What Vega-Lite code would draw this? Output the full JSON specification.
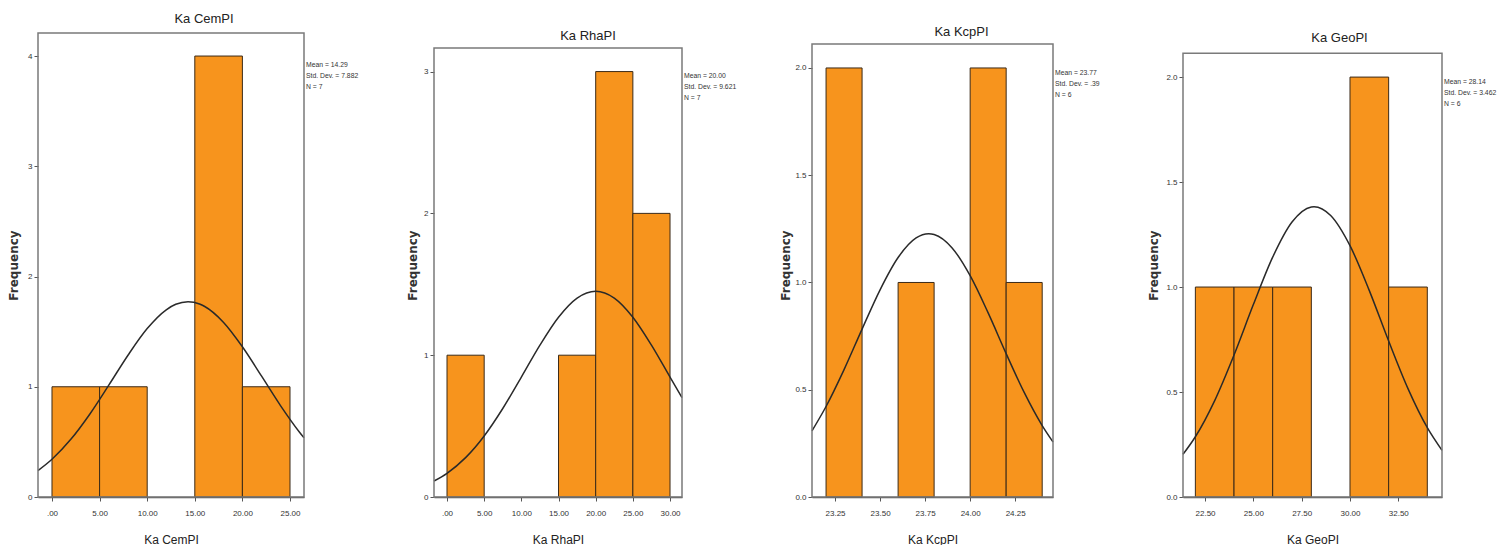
{
  "$schema": "https://vega.github.io/schema/vega-lite/v6.json",
  "background": "white",
  "padding": {"left": 7, "top": 13, "right": 0, "bottom": 0},
  "bounds": "flush",
  "spacing": 130,
  "config": {
    "view": {"stroke": null},
    "font": "Liberation Sans Narrow, Liberation Sans, sans-serif",
    "title": {"font": "Liberation Sans Narrow, Liberation Sans, sans-serif", "fontSize": 13, "fontWeight": "normal", "color": "#222"},
    "axis": {
      "grid": false,
      "labelFont": "Liberation Sans Narrow, Liberation Sans, sans-serif",
      "labelFontSize": 8,
      "labelColor": "#333",
      "tickColor": "#555",
      "tickSize": 4,
      "domainColor": "#555",
      "domainWidth": 1.5
    },
    "axisX": {"labelPadding": 8, "titlePadding": 17, "titleFont": "Liberation Sans Narrow, Liberation Sans, sans-serif", "titleFontSize": 12, "titleFontWeight": "normal", "titleColor": "#222"},
    "axisY": {"domain": false, "labelPadding": 2, "titleFont": "DejaVu Sans", "titleFontSize": 12, "titleFontWeight": "bold", "titleColor": "#333"}
  },
  "hconcat": [
    {
      "width": 266,
      "height": 464,
      "title": {"text": "Ka CemPI", "offset": 6, "dx": 33},
      "layer": [
        {
          "data": {"values": [
            {"lo": 0, "hi": 5, "count": 1},
            {"lo": 5, "hi": 10, "count": 1},
            {"lo": 15, "hi": 20, "count": 4},
            {"lo": 20, "hi": 25, "count": 1}
          ]},
          "mark": {"type": "rect", "color": "#F7941D", "stroke": "#3b2a18", "strokeWidth": 1},
          "encoding": {
            "x": {"field": "lo", "type": "quantitative", "scale": {"domain": [-1.47, 26.47], "nice": false, "zero": false},
                  "axis": {"values": [0, 5, 10, 15, 20, 25], "labelExpr": "datum.value === 0 ? '.00' : format(datum.value, '.2f')"}, "title": "Ka CemPI"},
            "x2": {"field": "hi"},
            "y": {"field": "count", "type": "quantitative", "scale": {"domain": [0, 4.209], "nice": false},
                  "axis": {"values": [0, 1, 2, 3, 4], "format": "d", "titlePadding": 7}, "title": "Frequency"},
            "y2": {"datum": 0}
          }
        },
        {
          "data": {"values": [
            {"value": -1.47, "density": 0.240},
            {"value": 0, "density": 0.3425},
            {"value": 2, "density": 0.5253},
            {"value": 4, "density": 0.7556},
            {"value": 6, "density": 1.019},
            {"value": 8, "density": 1.2884},
            {"value": 10, "density": 1.5276},
            {"value": 12, "density": 1.6983},
            {"value": 13, "density": 1.7479},
            {"value": 14.29, "density": 1.7715},
            {"value": 15.5, "density": 1.7508},
            {"value": 16, "density": 1.7303},
            {"value": 18, "density": 1.5857},
            {"value": 20, "density": 1.3627},
            {"value": 22, "density": 1.098},
            {"value": 24, "density": 0.8294},
            {"value": 26, "density": 0.5876},
            {"value": 26.47, "density": 0.5368}
          ]},
          "mark": {"type": "line", "color": "#2a2a2a", "strokeWidth": 1.5, "interpolate": "monotone"},
          "encoding": {
            "x": {"field": "value", "type": "quantitative", "scale": {"domain": [-1.47, 26.47], "nice": false, "zero": false}, "title": "Ka CemPI"},
            "y": {"field": "density", "type": "quantitative", "scale": {"domain": [0, 4.209], "nice": false}, "title": "Frequency"}
          }
        },
        {
          "data": {"values": [{}]},
          "mark": {"type": "rect", "filled": false, "stroke": "#7a7a7a", "strokeWidth": 1.5},
          "encoding": {
            "x": {"datum": -1.47, "type": "quantitative", "scale": {"domain": [-1.47, 26.47], "nice": false, "zero": false}, "title": "Ka CemPI"},
            "x2": {"datum": 26.47},
            "y": {"datum": 0, "type": "quantitative", "scale": {"domain": [0, 4.209], "nice": false}, "title": "Frequency"},
            "y2": {"datum": 4.209}
          }
        },
        {
          "data": {"values": [{}]},
          "mark": {"type": "text", "align": "left", "baseline": "top", "dx": 2, "fontSize": 6.8, "lineHeight": 11, "color": "#333"},
          "encoding": {
            "x": {"datum": 26.47, "type": "quantitative", "scale": {"domain": [-1.47, 26.47], "nice": false, "zero": false}, "title": "Ka CemPI"},
            "y": {"datum": 3.946, "type": "quantitative", "scale": {"domain": [0, 4.209], "nice": false}, "title": "Frequency"},
            "text": {"value": ["Mean = 14.29", "Std. Dev. = 7.882", "N = 7"]}
          }
        }
      ]
    },
    {
      "width": 248,
      "height": 464,
      "title": {"text": "Ka RhaPI", "offset": -10, "dx": 30},
      "layer": [
        {
          "data": {"values": [
            {"lo": 0, "hi": 5, "count": 1},
            {"lo": 15, "hi": 20, "count": 1},
            {"lo": 20, "hi": 25, "count": 3},
            {"lo": 25, "hi": 30, "count": 2}
          ]},
          "mark": {"type": "rect", "color": "#F7941D", "stroke": "#3b2a18", "strokeWidth": 1},
          "encoding": {
            "x": {"field": "lo", "type": "quantitative", "scale": {"domain": [-1.75, 31.61], "nice": false, "zero": false},
                  "axis": {"values": [0, 5, 10, 15, 20, 25, 30], "labelExpr": "datum.value === 0 ? '.00' : format(datum.value, '.2f')"}, "title": "Ka RhaPI"},
            "x2": {"field": "hi"},
            "y": {"field": "count", "type": "quantitative", "scale": {"domain": [0, 3.272], "nice": false},
                  "axis": {"values": [0, 1, 2, 3], "format": "d", "titlePadding": 4}, "title": "Frequency"},
            "y2": {"datum": 0}
          }
        },
        {
          "data": {"values": [
            {"value": -1.75, "density": 0.1127},
            {"value": 0, "density": 0.1673},
            {"value": 2.5, "density": 0.2775},
            {"value": 5, "density": 0.4305},
            {"value": 7.5, "density": 0.6241},
            {"value": 10, "density": 0.8455},
            {"value": 12.5, "density": 1.0711},
            {"value": 15, "density": 1.268},
            {"value": 17.5, "density": 1.4031},
            {"value": 20, "density": 1.4513},
            {"value": 22.5, "density": 1.4031},
            {"value": 25, "density": 1.268},
            {"value": 27.5, "density": 1.0711},
            {"value": 30, "density": 0.8455},
            {"value": 31.61, "density": 0.7007}
          ]},
          "mark": {"type": "line", "color": "#2a2a2a", "strokeWidth": 1.5, "interpolate": "monotone"},
          "encoding": {
            "x": {"field": "value", "type": "quantitative", "scale": {"domain": [-1.75, 31.61], "nice": false, "zero": false}, "title": "Ka RhaPI"},
            "y": {"field": "density", "type": "quantitative", "scale": {"domain": [0, 3.272], "nice": false}, "title": "Frequency"}
          }
        },
        {
          "data": {"values": [{}]},
          "mark": {"type": "rect", "filled": false, "stroke": "#7a7a7a", "strokeWidth": 1.5},
          "encoding": {
            "x": {"datum": -1.75, "type": "quantitative", "scale": {"domain": [-1.75, 31.61], "nice": false, "zero": false}, "title": "Ka RhaPI"},
            "x2": {"datum": 31.61},
            "y": {"datum": 0, "type": "quantitative", "scale": {"domain": [0, 3.272], "nice": false}, "title": "Frequency"},
            "y2": {"datum": 3.167}
          }
        },
        {
          "data": {"values": [{}]},
          "mark": {"type": "text", "align": "left", "baseline": "top", "dx": 2, "fontSize": 6.8, "lineHeight": 11, "color": "#333"},
          "encoding": {
            "x": {"datum": 31.61, "type": "quantitative", "scale": {"domain": [-1.75, 31.61], "nice": false, "zero": false}, "title": "Ka RhaPI"},
            "y": {"datum": 2.99, "type": "quantitative", "scale": {"domain": [0, 3.272], "nice": false}, "title": "Frequency"},
            "text": {"value": ["Mean = 20.00", "Std. Dev. = 9.621", "N = 7"]}
          }
        }
      ]
    },
    {
      "width": 241,
      "height": 464,
      "title": {"text": "Ka KcpPI", "offset": -6, "dx": 29},
      "layer": [
        {
          "data": {"values": [
            {"lo": 23.2, "hi": 23.4, "count": 2},
            {"lo": 23.6, "hi": 23.8, "count": 1},
            {"lo": 24.0, "hi": 24.2, "count": 2},
            {"lo": 24.2, "hi": 24.4, "count": 1}
          ]},
          "mark": {"type": "rect", "color": "#F7941D", "stroke": "#3b2a18", "strokeWidth": 1},
          "encoding": {
            "x": {"field": "lo", "type": "quantitative", "scale": {"domain": [23.122, 24.46], "nice": false, "zero": false},
                  "axis": {"values": [23.25, 23.5, 23.75, 24, 24.25], "format": ".2f"}, "title": "Ka KcpPI"},
            "x2": {"field": "hi"},
            "y": {"field": "count", "type": "quantitative", "scale": {"domain": [0, 2.163], "nice": false},
                  "axis": {"values": [0, 0.5, 1, 1.5, 2], "format": ".1f", "titlePadding": 2}, "title": "Frequency"},
            "y2": {"datum": 0}
          }
        },
        {
          "data": {"values": [
            {"value": 23.122, "density": 0.3087},
            {"value": 23.2, "density": 0.4219},
            {"value": 23.3, "density": 0.5939},
            {"value": 23.4, "density": 0.7827},
            {"value": 23.5, "density": 0.9659},
            {"value": 23.6, "density": 1.1163},
            {"value": 23.7, "density": 1.2079},
            {"value": 23.77, "density": 1.2275},
            {"value": 23.8, "density": 1.2239},
            {"value": 23.9, "density": 1.1612},
            {"value": 24.0, "density": 1.0316},
            {"value": 24.1, "density": 0.8581},
            {"value": 24.2, "density": 0.6684},
            {"value": 24.3, "density": 0.4876},
            {"value": 24.4, "density": 0.333},
            {"value": 24.46, "density": 0.2566}
          ]},
          "mark": {"type": "line", "color": "#2a2a2a", "strokeWidth": 1.5, "interpolate": "monotone"},
          "encoding": {
            "x": {"field": "value", "type": "quantitative", "scale": {"domain": [23.122, 24.46], "nice": false, "zero": false}, "title": "Ka KcpPI"},
            "y": {"field": "density", "type": "quantitative", "scale": {"domain": [0, 2.163], "nice": false}, "title": "Frequency"}
          }
        },
        {
          "data": {"values": [{}]},
          "mark": {"type": "rect", "filled": false, "stroke": "#7a7a7a", "strokeWidth": 1.5},
          "encoding": {
            "x": {"datum": 23.122, "type": "quantitative", "scale": {"domain": [23.122, 24.46], "nice": false, "zero": false}, "title": "Ka KcpPI"},
            "x2": {"datum": 24.46},
            "y": {"datum": 0, "type": "quantitative", "scale": {"domain": [0, 2.163], "nice": false}, "title": "Frequency"},
            "y2": {"datum": 2.112}
          }
        },
        {
          "data": {"values": [{}]},
          "mark": {"type": "text", "align": "left", "baseline": "top", "dx": 2, "fontSize": 6.8, "lineHeight": 11, "color": "#333"},
          "encoding": {
            "x": {"datum": 24.46, "type": "quantitative", "scale": {"domain": [23.122, 24.46], "nice": false, "zero": false}, "title": "Ka KcpPI"},
            "y": {"datum": 1.991, "type": "quantitative", "scale": {"domain": [0, 2.163], "nice": false}, "title": "Frequency"},
            "text": {"value": ["Mean = 23.77", "Std. Dev. = .39", "N = 6"]}
          }
        }
      ]
    },
    {
      "width": 259,
      "height": 464,
      "title": {"text": "Ka GeoPI", "offset": -12, "dx": 27},
      "layer": [
        {
          "data": {"values": [
            {"lo": 22, "hi": 24, "count": 1},
            {"lo": 24, "hi": 26, "count": 1},
            {"lo": 26, "hi": 28, "count": 1},
            {"lo": 30, "hi": 32, "count": 2},
            {"lo": 32, "hi": 34, "count": 1}
          ]},
          "mark": {"type": "rect", "color": "#F7941D", "stroke": "#3b2a18", "strokeWidth": 1},
          "encoding": {
            "x": {"field": "lo", "type": "quantitative", "scale": {"domain": [21.36, 34.76], "nice": false, "zero": false},
                  "axis": {"values": [22.5, 25, 27.5, 30, 32.5], "format": ".2f"}, "title": "Ka GeoPI"},
            "x2": {"field": "hi"},
            "y": {"field": "count", "type": "quantitative", "scale": {"domain": [0, 2.21], "nice": false},
                  "axis": {"values": [0, 0.5, 1, 1.5, 2], "format": ".1f", "titlePadding": 5}, "title": "Frequency"},
            "y2": {"datum": 0}
          }
        },
        {
          "data": {"values": [
            {"value": 21.36, "density": 0.2032},
            {"value": 22, "density": 0.2869},
            {"value": 23, "density": 0.4593},
            {"value": 24, "density": 0.6765},
            {"value": 25, "density": 0.9165},
            {"value": 26, "density": 1.1423},
            {"value": 27, "density": 1.3098},
            {"value": 28, "density": 1.3817},
            {"value": 28.14, "density": 1.3828},
            {"value": 29, "density": 1.3408},
            {"value": 30, "density": 1.197},
            {"value": 31, "density": 0.983},
            {"value": 32, "density": 0.7427},
            {"value": 33, "density": 0.5162},
            {"value": 34, "density": 0.3301},
            {"value": 34.76, "density": 0.2222}
          ]},
          "mark": {"type": "line", "color": "#2a2a2a", "strokeWidth": 1.5, "interpolate": "monotone"},
          "encoding": {
            "x": {"field": "value", "type": "quantitative", "scale": {"domain": [21.36, 34.76], "nice": false, "zero": false}, "title": "Ka GeoPI"},
            "y": {"field": "density", "type": "quantitative", "scale": {"domain": [0, 2.21], "nice": false}, "title": "Frequency"}
          }
        },
        {
          "data": {"values": [{}]},
          "mark": {"type": "rect", "filled": false, "stroke": "#7a7a7a", "strokeWidth": 1.5},
          "encoding": {
            "x": {"datum": 21.36, "type": "quantitative", "scale": {"domain": [21.36, 34.76], "nice": false, "zero": false}, "title": "Ka GeoPI"},
            "x2": {"datum": 34.76},
            "y": {"datum": 0, "type": "quantitative", "scale": {"domain": [0, 2.21], "nice": false}, "title": "Frequency"},
            "y2": {"datum": 2.114}
          }
        },
        {
          "data": {"values": [{}]},
          "mark": {"type": "text", "align": "left", "baseline": "top", "dx": 2, "fontSize": 6.8, "lineHeight": 11, "color": "#333"},
          "encoding": {
            "x": {"datum": 34.76, "type": "quantitative", "scale": {"domain": [21.36, 34.76], "nice": false, "zero": false}, "title": "Ka GeoPI"},
            "y": {"datum": 1.99, "type": "quantitative", "scale": {"domain": [0, 2.21], "nice": false}, "title": "Frequency"},
            "text": {"value": ["Mean = 28.14", "Std. Dev. = 3.462", "N = 6"]}
          }
        }
      ]
    }
  ]
}
